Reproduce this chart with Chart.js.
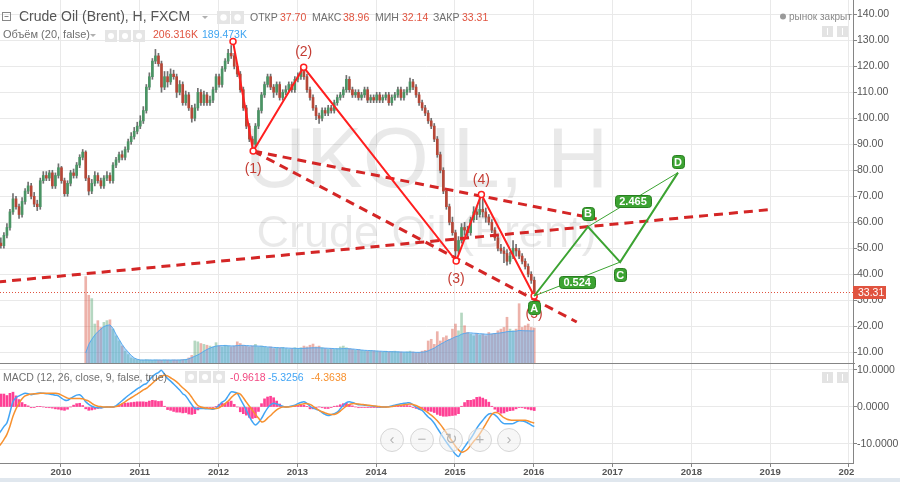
<!DOCTYPE html>
<html><head><meta charset="utf-8">
<script src="https://cdn.jsdelivr.net/npm/chart.js@4.4.1/dist/chart.umd.min.js"></script>
<style>
html,body{margin:0;padding:0;background:#e0e7ee;}
#wrap{width:900px;height:478px;background:#fff;}
canvas{display:block;}
</style></head><body>
<div id="wrap"><canvas id="c" width="900" height="478"></canvas></div>
<script>
// ---------------- DATA ----------------
const symbolTitle = 'Crude Oil (Brent), H, FXCM';
const watermarkMain = 'UKOIL, H';
const watermarkSub = 'Crude Oil (Brent)';
const volumeTitle = 'Объём (20, false)';
const macdTitle = 'MACD (12, 26, close, 9, false, true)';
const marketStatus = 'рынок закрыт';
const ohlcNames = ['ОТКР', 'МАКС', 'МИН', 'ЗАКР'];

const firstCandleYear = 2009.16;
const candlesPerYear = 26;

const candleOpen = [
 47,49,52,51,55,58,64,69,66,63,
 68,72,74,70,67,66,76,78,77,79,
 74,78,81,76,71,75,79,78,82,85,
 87,77,72,75,78,76,74,77,78,76,
 82,84,86,85,88,91,93,95,97,99,
 103,112,116,122,124,121,112,116,114,117,
 116,110,113,106,109,104,100,104,110,106,
 109,106,107,111,116,113,119,122,125,124,
 120,117,111,104,97,92,90,97,103,109,
 113,116,112,110,113,108,110,111,113,111,
 115,116,118,116,111,108,104,101,100,103,
 102,104,103,106,108,109,111,115,111,109,
 110,108,109,111,107,108,107,109,107,108,
 109,106,108,109,111,108,110,111,114,112,
 109,106,104,102,99,97,92,86,80,72,
 66,60,56,49,53,58,57,56,61,64,
 63,65,64,62,60,57,54,50,49,48,
 45,47,50,49,47,45,43,40,37.70];
const candleHigh = [
 50.5,53.5,54,56,59.5,65,71,70,67,69.5,
 73,75.5,75,71.5,68.5,77,79.5,79.5,80,80,
 79,82.5,81.5,77,76,80,80.5,83,86,88,
 87.5,78,76.5,79.5,79,77,78,79.5,79,83,
 85,87,87.5,89,92,94.5,96.5,98.5,101,104.5,
 113,117.5,123,126.5,125,122,118,118,119,118.5,
 117,114.5,114,110.5,110,105,105.5,111.5,111,110.5,
 110,108.5,112,117,117,120,123,126.5,128,125,
 121,118,112,105,98,93,98,104,110,114,
 117,117,113,114,114,111,112.5,114,114,116,
 117.5,119.5,119,117,112,109,105,102,104,104,
 105,105,107,109,110,112,116.5,116,112,111,
 111,110,112,112,109,109,110,110,109,110,
 110,109,110,112,112,111,112,115.5,115,113,
 110,107,105,103,100,98,93,87,81,73,
 67,62,57,54.5,59.5,60,58.5,62,66,66,
 69.5,69,65.5,63,61,58,55,51.5,50.5,49.5,
 48.5,53,51.5,50,48,46,44,41,38.96];
const candleLow = [
 45.5,48,50,50,54,57,63,65,61.5,62,
 67,71,69,66,64.5,65,75,76,76,73,
 73,77,75,70,70,74,77,77,81,84,
 76,70.5,71,74,75,73,73,76,75,75,
 81,83,84,84,87,90,92,94,96,98,
 102,111,115,121,120,110,111,112,113,115,
 108,109,105,105,103,98.5,99,103,105,105,
 105,105,106,110,112,112,118,121,123,119,
 116,110,103,96,91,88.5,89,96,102,108,
 112,111,108,109,107,107,109,110,110,110,
 114,115,115,110,107,103,99.5,98,99,101,
 101,102,102,105,107,108,110,110,108,108,
 107,107,108,106,106,106,106,106,106,107,
 105,105,107,108,107,107,109,110,111,108,
 105,103,101,98,96,91,85,79,71,65,
 59,55,45.5,48,52,55,54,55,60,61,
 62,62,60,59,56,53,49,48,44.5,43.5,
 44,46,47,46,44,42,39,36.5,32.14];
const candleClose = [
 49,52,51,55,58,64,69,66,63,68,
 72,74,70,67,66,76,78,77,79,74,
 78,81,76,71,75,79,78,82,85,87,
 77,72,75,78,76,74,77,78,76,82,
 84,86,85,88,91,93,95,97,99,103,
 112,116,122,124,121,112,116,114,117,116,
 110,113,106,109,104,100,104,110,106,109,
 106,107,111,116,113,119,122,125,124,120,
 117,111,104,97,92,90,97,103,109,113,
 116,112,110,113,108,110,111,113,111,115,
 116,118,116,111,108,104,101,100,103,102,
 104,103,106,108,109,111,115,111,109,110,
 108,109,111,107,108,107,109,107,108,109,
 106,108,109,111,108,110,111,114,112,109,
 106,104,102,99,97,92,86,80,72,66,
 60,56,49,53,58,57,56,61,64,63,
 65,64,62,60,57,54,50,49,48,45,
 47,50,49,47,45,43,40,37.7,33.31];

// volume (thousands), aligned with the last candles
const volume = [
 510,400,380,230,250,210,240,250,255,200,
 160,130,100,70,50,30,25,20,18,17,
 20,18,16,18,17,16,18,17,16,18,
 17,18,20,22,30,45,130,125,115,110,
 105,100,95,120,100,95,105,100,95,100,
 125,115,105,100,95,100,110,95,100,95,
 90,95,85,90,88,92,85,80,85,90,
 85,90,100,95,105,112,95,100,90,85,
 80,85,80,85,95,100,90,85,80,75,
 80,75,72,70,75,72,70,68,65,70,
 65,68,70,66,65,62,66,70,65,60,
 62,70,75,130,140,110,185,130,150,160,
 140,200,230,190,295,220,180,170,160,175,
 165,170,160,180,170,175,190,200,210,270,
 200,190,200,350,210,220,230,210,206.316];
const volumeMA = [
 60,110,140,165,185,200,215,222,225,205,
 170,140,110,85,65,45,30,22,18,18,
 18,18,18,18,18,18,18,18,18,18,
 18,18,19,20,25,32,40,48,58,70,
 80,88,95,100,102,103,103,102,101,101,
 103,104,104,103,102,101,101,100,99,97,
 95,94,92,91,90,90,89,88,87,87,
 86,86,87,88,89,90,90,90,89,88,
 87,86,85,84,84,85,85,84,83,81,
 79,77,75,74,73,72,71,70,69,68,
 67,67,66,66,65,65,64,64,64,63,
 63,64,66,72,80,88,100,110,120,130,
 138,146,155,160,170,175,178,178,176,175,
 173,172,170,170,172,174,176,178,181,185,
 186,187,188,192,191,190,190,189,189.473];

const macdLine = [
 -8.5,-7.6,-6.5,-5.3,-4.3,-1.5,1.5,2.5,3.0,3.4,
 3.7,3.6,3.3,3.5,3.7,3.8,3.7,3.6,3.5,3.4,
 3.2,3.0,2.4,1.9,1.8,2.3,2.8,3.2,3.3,2.6,
 1.4,0.7,0.2,-0.1,-0.2,-0.2,-0.1,0,0,0,
 0.3,1.0,1.7,2.4,3.1,3.7,4.3,4.9,5.4,6.0,
 6.3,7.3,8.2,8.9,9.3,9.9,8.8,7.7,7.0,6.2,
 5.4,4.6,3.6,3.0,1.8,0.6,-0.4,-0.4,-0.4,-0.4,
 -0.5,-0.5,-0.6,-0.3,0.5,1.3,1.8,3.0,4.1,4.0,
 3.7,2.2,0.7,-0.9,-2.6,-4.0,-4.9,-4.2,-3.1,-1.6,
 -0.3,0.6,1.0,0.8,0.5,0.2,0,0.1,0.3,0.5,
 0.9,1.2,1.4,1.0,0.2,-0.3,-0.6,-0.9,-1.5,-2.0,
 -2.3,-2.1,-1.8,-1.4,-0.5,0.5,1.2,1.4,1.2,0.9,
 0.6,0.6,0.5,0.4,0.3,0.2,0.1,0,0,0,
 0.1,0.3,0.5,0.7,0.9,1.0,1.1,1.1,0.6,0,
 -0.6,-0.9,-1.8,-2.7,-3.4,-4.4,-5.7,-7.0,-8.3,-9.5,
 -10.6,-11.7,-12.8,-13.4,-12.0,-10.8,-9.6,-8.6,-7.3,-5.8,
 -4.6,-3.6,-2.6,-1.9,-1.8,-2.1,-2.9,-3.9,-4.5,-4.5,
 -4.5,-4.5,-4.1,-3.7,-3.8,-4.0,-4.4,-4.9,-5.3256];
const signalLine = [
 -12.0,-11.0,-10.0,-8.8,-7.4,-5.2,-2.5,-0.5,1.0,2.2,
 3.0,3.3,3.5,3.6,3.6,3.7,3.7,3.7,3.7,3.7,
 3.7,3.6,3.2,2.8,2.4,2.3,2.3,2.3,2.3,2.2,
 1.9,1.6,1.0,0.5,0.2,0.1,0,0,0,0,
 0.1,0.4,0.9,1.4,2.0,2.5,3.0,3.5,4.0,4.6,
 5.0,5.7,6.4,7.2,7.8,8.3,8.6,8.4,7.9,7.4,
 6.8,6.0,5.2,4.5,3.7,2.6,1.4,0.4,0,-0.2,
 -0.3,-0.4,-0.4,-0.4,-0.2,0.3,0.9,1.6,2.5,3.3,
 3.7,3.5,2.5,1.3,0.2,-0.9,-2.0,-3.0,-4.0,-3.8,
 -3.0,-2.3,-1.5,-0.8,-0.3,0,0,0,0.1,0.3,
 0.5,0.7,0.9,0.9,0.7,0.2,-0.4,-0.9,-1.3,-1.6,
 -1.9,-2.0,-2.0,-1.7,-1.1,-0.4,0.2,0.7,0.9,0.9,
 0.8,0.7,0.6,0.5,0.4,0.3,0.2,0.1,0,0,
 0,0.1,0.3,0.4,0.5,0.6,0.7,0.8,0.7,0.4,
 0,-0.5,-1.0,-1.6,-2.2,-2.9,-3.7,-4.7,-5.8,-7.0,
 -8.2,-9.4,-10.6,-11.6,-12.2,-12.0,-11.4,-10.4,-9.3,-8.4,
 -7.3,-6.0,-4.6,-3.2,-2.0,-1.5,-1.6,-2.2,-2.9,-3.3,
 -3.5,-3.6,-3.6,-3.6,-3.6,-3.6,-3.8,-4.1,-4.3638];

const yearTicks = [2010,2011,2012,2013,2014,2015,2016,2017,2018,2019,2020];
const priceTicks = [10,20,30,40,50,60,70,80,90,100,110,120,130,140];
const macdTicks = [-10,0,10];

// Elliott wave drawing
const waveLabels = ['', '(1)', '(2)', '(3)', '(4)', '(5)'];
const waveYears  = [2012.183, 2012.439, 2013.080, 2015.015, 2015.335, 2016.005];
const wavePrices = [129.5, 87.4, 119.6, 45.1, 70.7, 31.65];

// dashed trend lines (start / end)
const trendUpperYears  = [2012.439, 2016.798];
const trendUpperPrices = [87.4, 61.3];
const trendLowerYears  = [2012.439, 2016.545];
const trendLowerPrices = [87.4, 21.65];
const trendLongYears   = [2009.0, 2019.0];
const trendLongPrices  = [36.5, 64.9];

// ABCD pattern
const abcdLabels = ['A', 'B', 'C', 'D'];
const abcdYears  = [2016.005, 2016.688, 2017.096, 2017.830];
const abcdPrices = [31.65, 58.3, 44.7, 79.1];
const abcdRatios = ['0.524', '2.465'];

// ---------------- STYLE ----------------
const FONT = '"Liberation Sans", Arial, Helvetica, sans-serif';
Chart.defaults.font.family = FONT;
const UP = '#4a9464', DOWN = '#b64737', WICK = '#707070';
const WAVE_RED = '#ff1f1f', DASH_RED = '#d42626', LABEL_RED = '#c43c33';
const GREEN = '#3ca332';
const MACD_BLUE = '#42a5f5', SIG_ORANGE = '#f7912f', HIST_PINK = 'rgba(255,30,130,0.85)';
const GRID = '#e9e9e9', AXIS = '#858585', TICK_TXT = '#555';
const waveLabelOffset = [0, 18, -15, 18, -14, 18];
const abcdLabelOffset = [11.5, -13.5, 12.5, -11];

// ---------------- BUILD ----------------
const n = candleClose.length;
const candleYears = candleClose.map((_, i) => firstCandleYear + i / candlesPerYear);
const volOffset = n - volume.length;
const isUp = i => candleClose[i] >= candleOpen[i];
const pts = (xs, ys) => xs.map((x, i) => ({x, y: ys[i]}));
const lastIdx = n - 1;
const histLast = macdLine[lastIdx] - signalLine[lastIdx];

const lineBase = {type: 'line', pointRadius: 0, xAxisID: 'x', yAxisID: 'y', fill: false};
const datasets = [
  {...lineBase, data: [{x: abcdYears[0], y: abcdPrices[0]}, {x: abcdYears[2], y: abcdPrices[2]}], borderColor: GREEN, borderWidth: 1, order: 1},
  {...lineBase, data: [{x: abcdYears[1], y: abcdPrices[1]}, {x: abcdYears[3], y: abcdPrices[3]}], borderColor: GREEN, borderWidth: 1, order: 1},
  {...lineBase, data: pts(abcdYears, abcdPrices), borderColor: GREEN, borderWidth: 2, order: 1},
  {...lineBase, data: pts(waveYears, wavePrices), borderColor: WAVE_RED, borderWidth: 2,
    pointRadius: 3, pointBackgroundColor: '#fff', pointBorderColor: WAVE_RED, pointBorderWidth: 1.5, order: 2},
  {...lineBase, data: pts(trendUpperYears, trendUpperPrices), borderColor: DASH_RED, borderWidth: 3, borderDash: [9, 6], order: 3},
  {...lineBase, data: pts(trendLowerYears, trendLowerPrices), borderColor: DASH_RED, borderWidth: 3, borderDash: [9, 6], order: 3},
  {...lineBase, data: pts(trendLongYears, trendLongPrices), borderColor: DASH_RED, borderWidth: 3, borderDash: [9, 6], order: 3},
  {type: 'bar', xAxisID: 'x', yAxisID: 'y', order: 5, grouped: false, barThickness: 2, minBarLength: 1,
    data: candleYears.map((x, i) => ({x, y: [candleOpen[i], candleClose[i]]})),
    backgroundColor: c => isUp(c.dataIndex) ? UP : DOWN},
  {type: 'bar', xAxisID: 'x', yAxisID: 'y', order: 6, grouped: false, barThickness: 1,
    data: candleYears.map((x, i) => ({x, y: [candleLow[i], candleHigh[i]]})),
    backgroundColor: WICK},
  {type: 'line', xAxisID: 'x', yAxisID: 'yVol', order: 8, pointRadius: 0, borderWidth: 1,
    data: volumeMA.map((v, j) => ({x: candleYears[j + volOffset], y: v})),
    borderColor: 'rgba(80,165,238,0.9)', backgroundColor: 'rgba(86,170,240,0.45)', fill: 'origin'},
  {type: 'bar', xAxisID: 'x', yAxisID: 'yVol', order: 9, grouped: false, barThickness: 2,
    data: volume.map((v, j) => ({x: candleYears[j + volOffset], y: v})),
    backgroundColor: c => isUp(c.dataIndex + volOffset) ? 'rgba(107,175,131,0.5)' : 'rgba(215,84,66,0.45)'},
  {type: 'line', xAxisID: 'x', yAxisID: 'yMacd', order: 10, pointRadius: 0, borderWidth: 1.5, tension: 0.3,
    data: pts(candleYears, signalLine), borderColor: SIG_ORANGE, fill: false},
  {type: 'line', xAxisID: 'x', yAxisID: 'yMacd', order: 11, pointRadius: 0, borderWidth: 1.5, tension: 0.3,
    data: pts(candleYears, macdLine), borderColor: MACD_BLUE, fill: false},
  {type: 'bar', xAxisID: 'x', yAxisID: 'yMacd', order: 12, grouped: false, barThickness: 2,
    data: candleYears.map((x, i) => ({x, y: macdLine[i] - signalLine[i]})),
    backgroundColor: HIST_PINK}
];

function roundRect(ctx, x, y, w, h, r) {
  ctx.beginPath();
  ctx.moveTo(x + r, y);
  ctx.arcTo(x + w, y, x + w, y + h, r);
  ctx.arcTo(x + w, y + h, x, y + h, r);
  ctx.arcTo(x, y + h, x, y, r);
  ctx.arcTo(x, y, x + w, y, r);
  ctx.closePath();
}
function greenBox(ctx, text, cx, cy, h, font, pad) {
  ctx.font = font;
  const w = ctx.measureText(text).width + pad * 2;
  roundRect(ctx, Math.round(cx - w / 2) + 0.5, Math.round(cy - h / 2) + 0.5, Math.round(w), h, 3);
  ctx.fillStyle = GREEN; ctx.fill();
  ctx.strokeStyle = '#2a7f22'; ctx.lineWidth = 1; ctx.stroke();
  ctx.fillStyle = '#fff'; ctx.textAlign = 'center'; ctx.textBaseline = 'middle';
  ctx.fillText(text, cx, cy + 1);
}
function iconBoxes(ctx, xs, y, s) {
  xs.forEach(x => {
    ctx.fillStyle = '#e5e5e5'; ctx.fillRect(x, y, s, s);
    ctx.fillStyle = '#fff'; ctx.beginPath(); ctx.arc(x + s / 2, y + s / 2, s / 4, 0, Math.PI * 2); ctx.fill();
  });
}
function caret(ctx, x, y) {
  ctx.fillStyle = '#b0b0b0'; ctx.beginPath();
  ctx.moveTo(x, y); ctx.lineTo(x + 6, y); ctx.lineTo(x + 3, y + 3); ctx.closePath(); ctx.fill();
}
function txt(ctx, s, x, y, color, font) {
  ctx.font = font; ctx.fillStyle = color; ctx.textAlign = 'left'; ctx.textBaseline = 'alphabetic';
  ctx.fillText(s, x, y);
}

const overlay = {
  id: 'overlay',
  beforeDatasetsDraw(chart) {
    const {ctx, chartArea: a, scales} = chart;
    const paneBottom = scales.yVol.getPixelForValue(0);
    ctx.save();
    ctx.beginPath(); ctx.rect(a.left, a.top, a.right - a.left, paneBottom - a.top); ctx.clip();
    ctx.fillStyle = 'rgba(0,0,0,0.085)';
    ctx.textAlign = 'center'; ctx.textBaseline = 'alphabetic';
    const cx = (a.left + a.right) / 2;
    ctx.font = `85px ${FONT}`; ctx.fillText(watermarkMain, cx, 187);
    ctx.font = `45px ${FONT}`; ctx.fillText(watermarkSub, cx, 247);
    const py = Math.round(scales.y.getPixelForValue(candleClose[lastIdx])) + 0.5;
    ctx.strokeStyle = '#e0533f'; ctx.lineWidth = 1; ctx.setLineDash([1, 2]);
    ctx.beginPath(); ctx.moveTo(a.left, py); ctx.lineTo(a.right, py); ctx.stroke();
    ctx.restore();
  },
  afterDatasetsDraw(chart) {
    const {ctx, chartArea: a, scales: {x, y, yVol}} = chart;
    ctx.save();
    const sy = Math.round(yVol.getPixelForValue(0)) + 0.5;
    ctx.strokeStyle = AXIS; ctx.lineWidth = 1;
    ctx.beginPath(); ctx.moveTo(a.left, sy); ctx.lineTo(a.right + 2, sy); ctx.stroke();
    ctx.font = `14px ${FONT}`; ctx.fillStyle = LABEL_RED; ctx.textAlign = 'center'; ctx.textBaseline = 'middle';
    waveLabels.forEach((t, i) => {
      if (!t) return;
      ctx.fillText(t, x.getPixelForValue(waveYears[i]), y.getPixelForValue(wavePrices[i]) + waveLabelOffset[i]);
    });
    abcdLabels.forEach((t, i) => {
      greenBox(ctx, t, x.getPixelForValue(abcdYears[i]), y.getPixelForValue(abcdPrices[i]) + abcdLabelOffset[i], 13, `bold 11px ${FONT}`, 2);
    });
    const mid = (i, j) => [(x.getPixelForValue(abcdYears[i]) + x.getPixelForValue(abcdYears[j])) / 2,
                           (y.getPixelForValue(abcdPrices[i]) + y.getPixelForValue(abcdPrices[j])) / 2];
    const m1 = mid(0, 2), m2 = mid(1, 3);
    greenBox(ctx, abcdRatios[0], m1[0], m1[1] + 3, 12, `bold 11px ${FONT}`, 4);
    greenBox(ctx, abcdRatios[1], m2[0], m2[1] + 1.5, 12, `bold 11px ${FONT}`, 4);
    ctx.restore();
  },
  afterDraw(chart) {
    const {ctx, chartArea: a, scales: {y}} = chart;
    ctx.save();
    // clip time labels at the price axis
    ctx.fillStyle = '#fff'; ctx.fillRect(a.right + 1, a.bottom + 1, 60, 20);
    // last price tag
    const py = y.getPixelForValue(candleClose[lastIdx]);
    ctx.fillStyle = '#e0533f'; ctx.fillRect(a.right, Math.round(py) - 6, 33, 13);
    txt(ctx, candleClose[lastIdx].toFixed(2), a.right + 5, Math.round(py) + 4, '#fff', `10.5px ${FONT}`);
    // legend row 1
    ctx.strokeStyle = '#888'; ctx.lineWidth = 1;
    ctx.strokeRect(2.5, 12.5, 8, 8);
    ctx.beginPath(); ctx.moveTo(4.5, 16.5); ctx.lineTo(8.5, 16.5); ctx.stroke();
    txt(ctx, symbolTitle, 19, 20.5, '#555', `14px ${FONT}`);
    caret(ctx, 202, 16);
    iconBoxes(ctx, [217, 231], 11, 13);
    const sm = `10.5px ${FONT}`, red = '#e0533f', grey = '#6f6f6f';
    const ohlc = [candleOpen[lastIdx], candleHigh[lastIdx], candleLow[lastIdx], candleClose[lastIdx]];
    const nameX = [250, 312, 375, 433], valX = [280, 343, 402, 462];
    ohlcNames.forEach((nm, i) => {
      txt(ctx, nm, nameX[i], 20.5, grey, sm);
      txt(ctx, ohlc[i].toFixed(2), valX[i], 20.5, red, sm);
    });
    // legend row 2
    txt(ctx, volumeTitle, 3, 38, grey, `11px ${FONT}`);
    caret(ctx, 90, 34);
    iconBoxes(ctx, [105, 119, 133], 30, 12);
    txt(ctx, volume[volume.length - 1].toFixed(3) + 'K', 153, 38, red, sm);
    txt(ctx, volumeMA[volumeMA.length - 1].toFixed(3) + 'K', 202, 38, '#3fa4f0', sm);
    // MACD legend
    txt(ctx, macdTitle, 3, 380.5, grey, sm);
    iconBoxes(ctx, [185, 199, 213], 371, 12);
    txt(ctx, histLast.toFixed(4), 230, 380.5, '#f24982', sm);
    txt(ctx, macdLine[lastIdx].toFixed(4), 268, 380.5, MACD_BLUE, sm);
    txt(ctx, signalLine[lastIdx].toFixed(4), 311, 380.5, SIG_ORANGE, sm);
    // market status
    ctx.fillStyle = '#9a9a9a'; ctx.beginPath(); ctx.arc(783, 16.5, 3, 0, Math.PI * 2); ctx.fill();
    txt(ctx, marketStatus, 789, 19.5, '#8a8a8a', `10px ${FONT}`);
    [[822, 26], [837, 26], [822, 372], [837, 372]].forEach(([bx, by]) => {
      ctx.fillStyle = '#e3e3e3'; ctx.fillRect(bx, by, 11, 11);
      ctx.strokeStyle = '#fff'; ctx.beginPath(); ctx.moveTo(bx + 5.5, by + 2); ctx.lineTo(bx + 5.5, by + 9); ctx.stroke();
    });
    // navigation buttons
    const glyphs = ['‹', '−', '↻', '+', '›'];
    [392, 422, 451, 480, 509].forEach((bx, i) => {
      ctx.beginPath(); ctx.arc(bx, 440, 11.5, 0, Math.PI * 2);
      ctx.fillStyle = 'rgba(240,240,240,0.55)'; ctx.fill();
      ctx.strokeStyle = 'rgba(205,205,205,0.8)'; ctx.lineWidth = 1; ctx.stroke();
      ctx.fillStyle = '#b5b5b5'; ctx.font = `15px ${FONT}`; ctx.textAlign = 'center'; ctx.textBaseline = 'middle';
      ctx.fillText(glyphs[i], bx, 440);
    });
    ctx.restore();
  }
};

new Chart(document.getElementById('c'), {
  type: 'line',
  data: {datasets},
  options: {
    responsive: false, animation: false, devicePixelRatio: 1, events: [],
    layout: {padding: 0, autoPadding: false},
    plugins: {legend: {display: false}, tooltip: {enabled: false}},
    scales: {
      x: {
        type: 'linear', min: 2009.226, max: 2020.051, offset: false,
        grid: {color: GRID, tickLength: 4, tickColor: AXIS, offset: false},
        border: {color: AXIS},
        ticks: {color: TICK_TXT, padding: 0, maxRotation: 0, autoSkip: false,
          font: {size: 9.5, weight: 'bold'}, callback: v => String(v)},
        afterBuildTicks: s => { s.ticks = yearTicks.map(v => ({value: v})); },
        afterFit: s => { s.height = 15; s.paddingLeft = 0; s.paddingRight = 0; }
      },
      y: {
        type: 'linear', position: 'right', stack: 'panes', stackWeight: 363, weight: 0,
        min: 5.88, max: 145.5,
        grid: {color: GRID, tickLength: 4, tickColor: AXIS},
        border: {color: AXIS},
        ticks: {color: TICK_TXT, padding: 0, autoSkip: false, font: {size: 10.5}, callback: v => v.toFixed(2)},
        afterBuildTicks: s => { s.ticks = priceTicks.map(v => ({value: v})); },
        afterFit: s => { s.width = 47; s.paddingTop = 0; s.paddingBottom = 0; }
      },
      yMacd: {
        type: 'linear', position: 'right', stack: 'panes', stackWeight: 100, weight: 1,
        min: -15.14, max: 11.89,
        grid: {color: GRID, tickLength: 4, tickColor: AXIS},
        border: {color: AXIS},
        ticks: {color: TICK_TXT, padding: 0, autoSkip: false, font: {size: 10.5}, callback: v => v.toFixed(4)},
        afterBuildTicks: s => { s.ticks = macdTicks.map(v => ({value: v})); },
        afterFit: s => { s.width = 47; s.paddingTop = 0; s.paddingBottom = 0; }
      },
      yVol: {type: 'linear', display: false, min: -590, max: 2142}
    }
  },
  plugins: [overlay]
});
</script>
</body></html>
